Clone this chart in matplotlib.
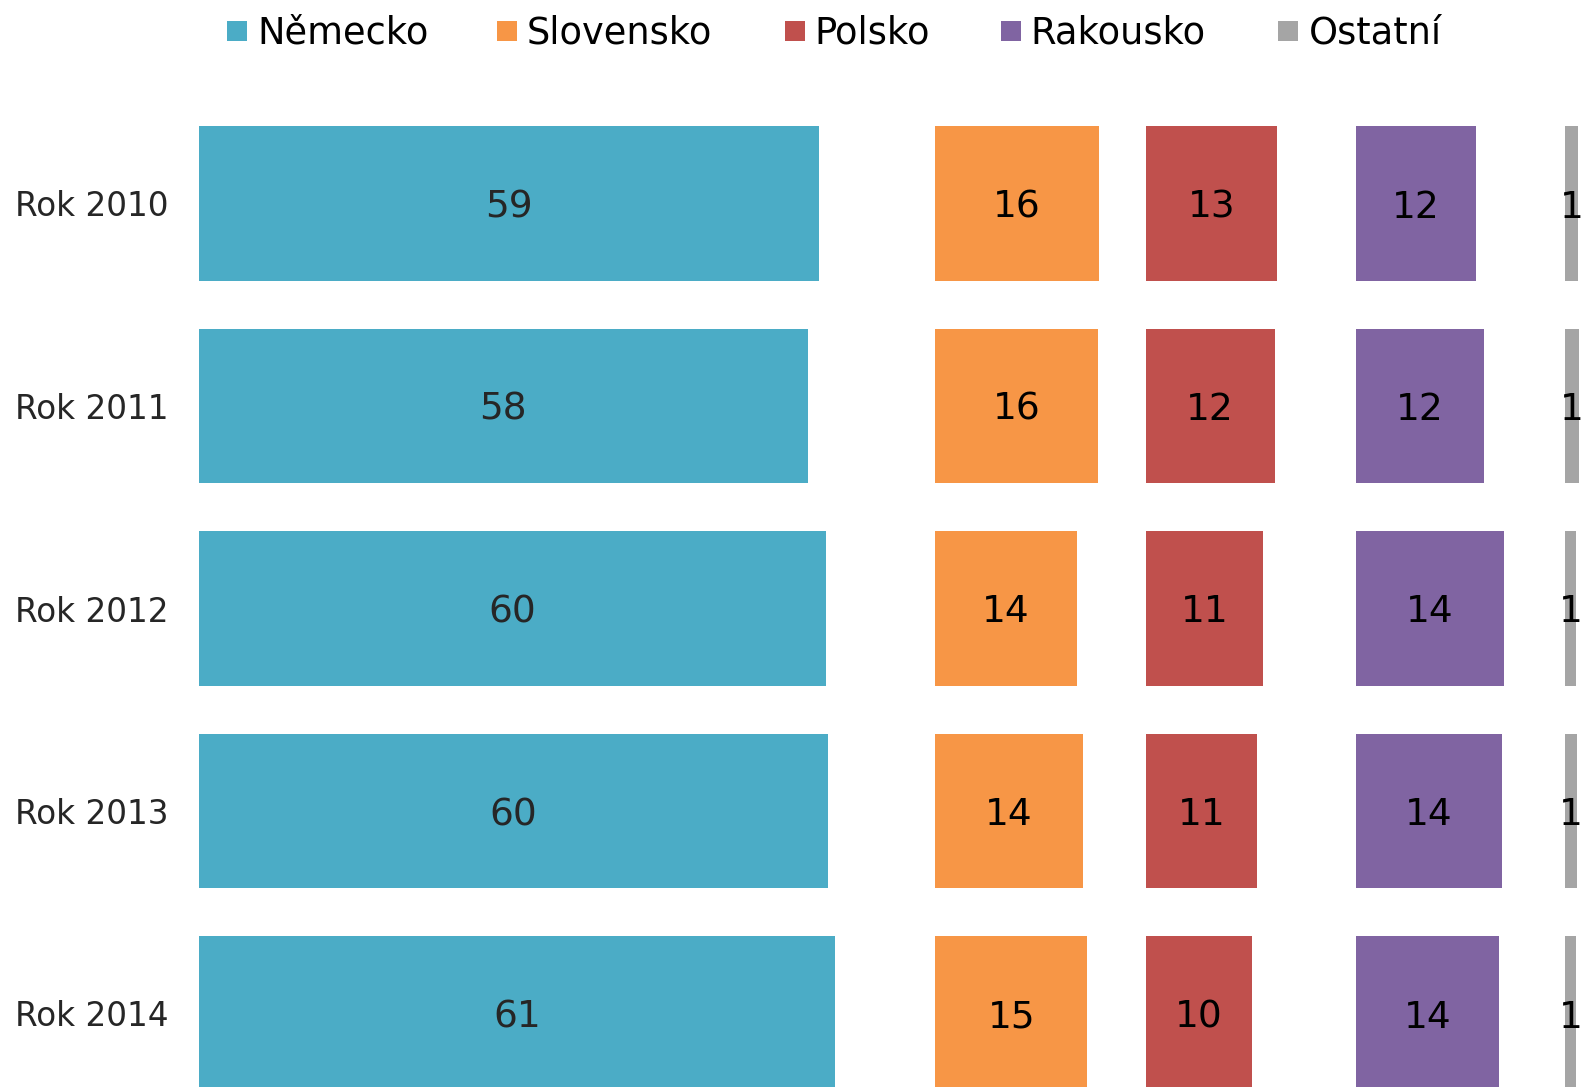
import numpy as np
import matplotlib
matplotlib.use("Agg")
import matplotlib.pyplot as plt
from matplotlib.patches import Rectangle
from matplotlib.transforms import blended_transform_factory

# ---- data ----
years = ["Rok 2010", "Rok 2011", "Rok 2012", "Rok 2013", "Rok 2014"]
countries = ["Německo", "Slovensko", "Polsko", "Rakousko", "Ostatní"]
nemecko = [59.4, 58.4, 60.1, 60.3, 61.0]
slovensko = [15.7, 15.6, 13.6, 14.2, 14.6]
polsko = [12.6, 12.4, 11.3, 10.7, 10.2]
rakousko = [11.5, 12.3, 14.2, 14.0, 13.7]
ostatni = [1.2, 1.3, 1.0, 1.1, 1.0]
series = [nemecko, slovensko, polsko, rakousko, ostatni]

colors = ["#4BACC6", "#F79646", "#C0504D", "#8064A2", "#A5A5A5"]
label_colors = ["#262626", "#000000", "#000000", "#000000", "#000000"]

# ---- layout (figure pixels) ----
W, H = 1582, 1087
fig = plt.figure(figsize=(W / 100, H / 100), dpi=100)
fig.patch.set_facecolor("white")

scale = 10.44                      # pixels per percentage point
panel_left = [198.5, 935, 1145.5, 1356, 1565.3]
panel_span = [70.5, 20.1, 20.1, 20.1, 20.1]
ax_top, ax_bottom = 102.25, 1114.75

def fmt(v):
    return str(int(np.floor(v + 0.5)))

axes = []
for k, (vals, col) in enumerate(zip(series, colors)):
    left = panel_left[k] / W
    width = panel_span[k] * scale / W
    bottom = 1 - ax_bottom / H
    height = (ax_bottom - ax_top) / H
    ax = fig.add_axes([left, bottom, width, height])
    ypos = np.arange(len(years))
    ax.barh(ypos, vals, height=0.765, color=col, edgecolor="none")
    for y, v in zip(ypos, vals):
        ax.text(v / 2, y, fmt(v), ha="center", va="center_baseline",
                fontsize=27, color=label_colors[k], family="DejaVu Sans")
    ax.set_xlim(0, panel_span[k])
    ax.set_ylim(len(years) - 0.5, -0.5)
    ax.axis("off")
    axes.append(ax)

# row labels
tr = blended_transform_factory(fig.transFigure, axes[0].transData)
for i, yl in enumerate(years):
    axes[0].text(15 / W, i, yl, transform=tr, ha="left", va="center_baseline",
                 fontsize=23.5, color="#262626", family="DejaVu Sans")

# legend
marker_x = [227, 497, 785, 1001, 1278]
text_x = [257, 527, 814, 1030, 1309]
msize = 20
ly = 31
for c, name, mx, tx in zip(colors, countries, marker_x, text_x):
    fig.patches.append(Rectangle((mx / W, 1 - (ly + msize / 2) / H), msize / W, msize / H,
                                 transform=fig.transFigure, facecolor=c, edgecolor="none"))
    fig.text(tx / W, 1 - (ly - 2) / H, name, ha="left", va="center_baseline",
             fontsize=26.5, color="#000000", family="DejaVu Sans")

fig.savefig("out.png", dpi=100, facecolor="white")
